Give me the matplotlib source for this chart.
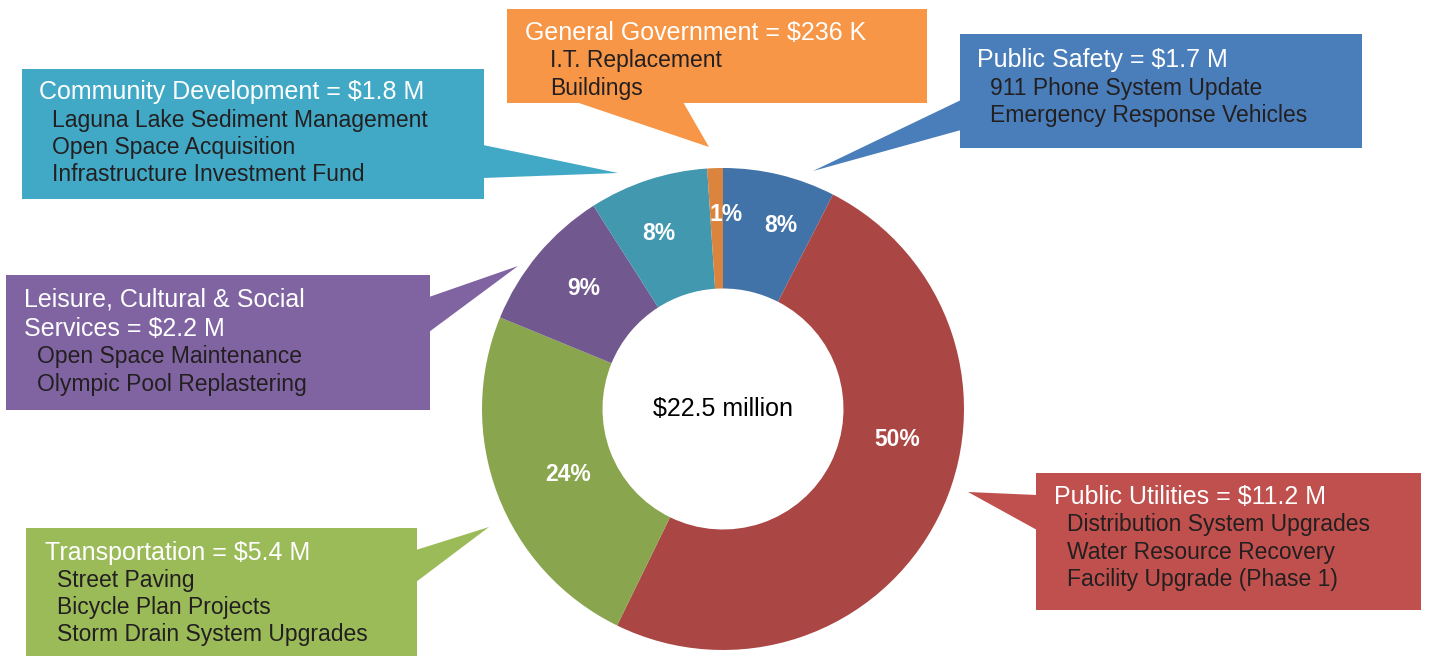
import numpy as np
import matplotlib
matplotlib.use('Agg')
import matplotlib.pyplot as plt
from matplotlib.patches import Rectangle, Polygon

plt.rcParams['font.family'] = ['Liberation Sans', 'DejaVu Sans']

# data (clockwise from 12 o'clock)
categories = ['Public Safety', 'Public Utilities', 'Transportation',
              'Leisure, Cultural & Social Services', 'Community Development',
              'General Government']
amounts = [1.7, 11.2, 5.4, 2.2, 1.8, 0.236]  # $ million
pct_labels = ['8%', '50%', '24%', '9%', '8%', '1%']
box_titles = [['Public Safety = $1.7 M'],
              ['Public Utilities = $11.2 M'],
              ['Transportation = $5.4 M'],
              ['Leisure, Cultural & Social', 'Services = $2.2 M'],
              ['Community Development = $1.8 M'],
              ['General Government = $236 K']]
projects = [['911 Phone System Update', 'Emergency Response Vehicles'],
            ['Distribution System Upgrades', 'Water Resource Recovery', 'Facility Upgrade (Phase 1)'],
            ['Street Paving', 'Bicycle Plan Projects', 'Storm Drain System Upgrades'],
            ['Open Space Maintenance', 'Olympic Pool Replastering'],
            ['Laguna Lake Sediment Management', 'Open Space Acquisition', 'Infrastructure Investment Fund'],
            ['I.T. Replacement', 'Buildings']]
center_label = '$22.5 million'

slice_colors = ['#4172A8', '#AA4643', '#89A54E', '#71588F', '#4198AF', '#DB843D']
box_colors = ['#4A7EBB', '#C0504D', '#9BBB59', '#8064A2', '#41A9C6', '#F79646']

W, H = 1429, 656
fig = plt.figure(figsize=(W / 100, H / 100), dpi=100)
ax = fig.add_axes([0, 0, 1, 1])

def Y(y):
    return H - y

# callout boxes in pixels: box (left, top, right, bottom), pointer triangle,
# title x, item x, first title line y, first item line y
layout = [
    dict(box=(960, 34, 1362, 148), tri=[(961, 100), (961, 130), (813, 171)], tx=977, ix=990, ty=60, iy=88),
    dict(box=(1036, 473, 1421, 610), tri=[(1037, 495), (1037, 530), (968, 492)], tx=1054, ix=1067, ty=497, iy=525),
    dict(box=(26, 528, 417, 660), tri=[(416, 550), (416, 582), (489, 527)], tx=45, ix=57, ty=553, iy=580),
    dict(box=(6, 275, 430, 410), tri=[(429, 297), (429, 332), (518, 266)], tx=24, ix=37, ty=300, iy=357),
    dict(box=(22, 69, 484, 199), tri=[(483, 145), (483, 178), (618, 173)], tx=39, ix=52, ty=92, iy=120),
    dict(box=(507, 9, 927, 103), tri=[(576, 102), (683, 102), (709, 147)], tx=525, ix=550, ty=33, iy=61),
]
line_h = 27.2
for i, lay in enumerate(layout):
    l, t, r, b = lay['box']
    ax.add_patch(Rectangle((l, Y(b)), r - l, b - t, facecolor=box_colors[i],
                           edgecolor='none', zorder=1))
    ax.add_patch(Polygon([(x, Y(y)) for x, y in lay['tri']], closed=True,
                         facecolor=box_colors[i], edgecolor='none', zorder=1))
    for k, s in enumerate(box_titles[i]):
        ax.text(lay['tx'], Y(lay['ty'] + 29 * k), s, color='white', fontsize=18,
                va='center', ha='left', zorder=3)
    for k, s in enumerate(projects[i]):
        ax.text(lay['ix'], Y(lay['iy'] + line_h * k), s, color='#231F20', fontsize=16.5,
                va='center', ha='left', zorder=3)

cx, cy, R = 723, Y(409), 241
wedges, _ = ax.pie(amounts, colors=slice_colors, startangle=90, counterclock=False,
                   radius=R, center=(cx, cy), frame=True,
                   wedgeprops=dict(width=R * 0.5, edgecolor='none'))
for w in wedges:
    w.set_zorder(2)

# percentage label spots: (degrees clockwise from 12 o'clock, distance in px)
pct_pos = [(17.6, 192), (99.8, 177), (246.9, 168), (310.8, 184), (340, 187), (0.9, 195)]
for (a, d), lab in zip(pct_pos, pct_labels):
    ang = np.deg2rad(90 - a)
    ax.text(cx + d * np.cos(ang), cy + d * np.sin(ang), lab, color='white',
            fontsize=16.5, fontweight='bold', ha='center', va='center', zorder=3)

ax.text(cx, cy, center_label, fontsize=18, ha='center', va='center', color='black', zorder=3)

ax.set_xlim(0, W)
ax.set_ylim(0, H)
ax.set_aspect('auto')
ax.axis('off')
fig.savefig('out.png', dpi=100)
